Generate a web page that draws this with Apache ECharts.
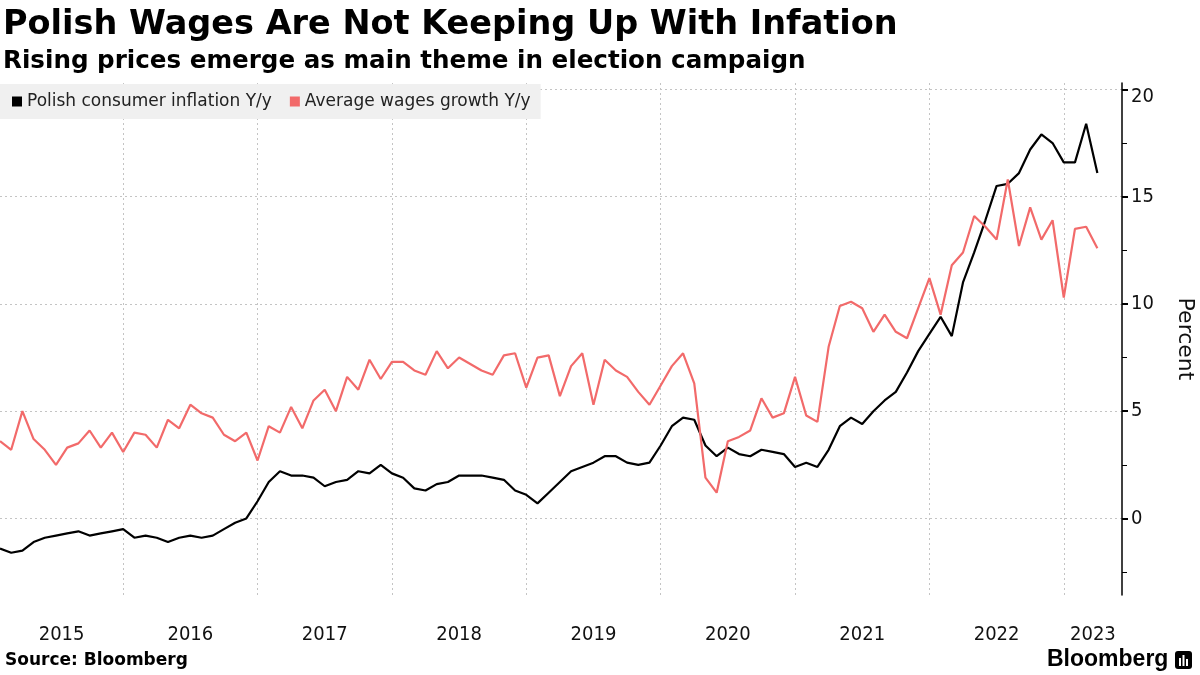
<!DOCTYPE html>
<html><head><meta charset="utf-8">
<script src="https://cdn.jsdelivr.net/npm/echarts@6/dist/echarts.min.js"></script>
<style>html,body{margin:0;padding:0;background:#fff}#c{width:1200px;height:675px}</style>
</head><body><div id="c"></div>
<script>
// Monthly data, first value = Jan 2015 (dated at month end), last = Mar 2023
const startYear = 2015;
const inflation = [
  -1.4,-1.6,-1.5,-1.1,-0.9,-0.8,-0.7,-0.6,-0.8,-0.7,-0.6,-0.5,
  -0.9,-0.8,-0.9,-1.1,-0.9,-0.8,-0.9,-0.8,-0.5,-0.2,0.0,0.8,
  1.7,2.2,2.0,2.0,1.9,1.5,1.7,1.8,2.2,2.1,2.5,2.1,
  1.9,1.4,1.3,1.6,1.7,2.0,2.0,2.0,1.9,1.8,1.3,1.1,
  0.7,1.2,1.7,2.2,2.4,2.6,2.9,2.9,2.6,2.5,2.6,3.4,
  4.3,4.7,4.6,3.4,2.9,3.3,3.0,2.9,3.2,3.1,3.0,2.4,
  2.6,2.4,3.2,4.3,4.7,4.4,5.0,5.5,5.9,6.8,7.8,8.6,
  9.4,8.5,11.0,12.4,13.9,15.5,15.6,16.1,17.2,17.9,17.5,16.6,
  16.6,18.4,16.1
];
const wages = [
  3.6,3.2,5.0,3.7,3.2,2.5,3.3,3.5,4.1,3.3,4.0,3.1,
  4.0,3.9,3.3,4.6,4.2,5.3,4.9,4.7,3.9,3.6,4.0,2.7,
  4.3,4.0,5.2,4.2,5.5,6.0,5.0,6.6,6.0,7.4,6.5,7.3,
  7.3,6.9,6.7,7.8,7.0,7.5,7.2,6.9,6.7,7.6,7.7,6.1,
  7.5,7.6,5.7,7.1,7.7,5.3,7.4,6.9,6.6,5.9,5.3,6.2,
  7.1,7.7,6.3,1.9,1.2,3.6,3.8,4.1,5.6,4.7,4.9,6.6,
  4.8,4.5,8.0,9.9,10.1,9.8,8.7,9.5,8.7,8.4,9.8,11.2,
  9.5,11.8,12.4,14.1,13.6,13.0,15.8,12.7,14.5,13.0,13.9,10.3,
  13.5,13.6,12.6
];
const seriesNames = ['Polish consumer inflation Y/y', 'Average wages growth Y/y'];
const yearLabels = ['2015','2016','2017','2018','2019','2020','2021','2022','2023'];
const yMajorTicks = [0, 5, 10, 15, 20];
const yMinorTicks = [-2.5, 2.5, 7.5, 12.5, 17.5];

const X_MIN = 0, X_MAX = 100.2;
const Y_MIN = -3.57, Y_MAX = 20.3;
const FONT_C = '"DejaVu Sans Condensed", "DejaVu Sans", sans-serif';
const FONT = '"DejaVu Sans", sans-serif';

const toPairs = arr => arr.map((v, i) => [i, v]);
const yearStart = y => 12 * (y - startYear) - 1;   // Jan 1 == end of previous Dec
const gridX = yearLabels.slice(1).map(y => yearStart(+y));
const labelX = yearLabels.map(y => {
  const a = Math.max(X_MIN, yearStart(+y));
  const b = Math.min(X_MAX, yearStart(+y) + 12);
  return (a + b) / 2;
});

const chart = echarts.init(document.getElementById('c'));
const dash = { color: '#c4c4c4', width: 1, type: [2, 3] };

chart.setOption({
  animation: false,
  backgroundColor: '#fff',
  textStyle: { fontFamily: FONT },
  title: [
    { text: 'Polish Wages Are Not Keeping Up With Infation', left: 3, top: 8, padding: 0,
      textStyle: { fontFamily: FONT, fontWeight: 'bold', fontSize: 33.5, color: '#000' } },
    { text: 'Rising prices emerge as main theme in election campaign', left: 3, top: 49, padding: 0,
      textStyle: { fontFamily: FONT, fontWeight: 'bold', fontSize: 24.6, color: '#000' } }
  ],
  legend: {
    data: seriesNames, left: 0, top: 84, icon: 'rect', itemWidth: 10, itemHeight: 10, itemGap: 18,
    backgroundColor: '#f0f0f0', padding: [9, 10, 9, 12],
    textStyle: { fontFamily: FONT, fontSize: 17, color: '#222' }
  },
  grid: { left: 0, right: 78, top: 83, bottom: 80, containLabel: false, outerBoundsMode: 'none' },
  xAxis: {
    type: 'value', min: X_MIN, max: X_MAX,
    axisLine: { show: false, onZero: false },
    axisTick: { show: false, customValues: gridX },
    splitLine: { show: true, lineStyle: dash },
    axisLabel: {
      customValues: labelX, margin: 30, fontSize: 20, color: '#111', fontFamily: FONT_C,
      formatter: v => { const k = labelX.findIndex(p => Math.abs(p - v) < 0.01); return k >= 0 ? yearLabels[k] : ''; }
    }
  },
  yAxis: [
    {
      type: 'value', position: 'right', min: Y_MIN, max: Y_MAX,
      axisLine: { show: true, onZero: false, lineStyle: { color: '#000', width: 1.5 } },
      axisTick: { show: true, customValues: yMajorTicks, length: 6, lineStyle: { color: '#000', width: 2 } },
      axisLabel: {
        customValues: yMajorTicks, fontSize: 20, color: '#111', margin: 9, fontFamily: FONT_C,
        formatter: v => v === 20 ? '{t|' + v + '}' : String(v),
        rich: { t: { fontSize: 20, fontFamily: FONT_C, color: '#111', padding: [14, 0, 0, 0] } }
      },
      splitLine: { show: true, lineStyle: dash },
      name: 'Percent', nameLocation: 'middle', nameRotate: -90, nameGap: 52,
      nameTextStyle: { fontSize: 22, color: '#111', fontFamily: FONT }
    },
    {
      type: 'value', position: 'right', min: Y_MIN, max: Y_MAX,
      axisLine: { show: false, onZero: false },
      axisTick: { show: true, customValues: yMinorTicks, length: 5, lineStyle: { color: '#000', width: 1 } },
      axisLabel: { show: false },
      splitLine: { show: false }
    }
  ],
  series: [
    { name: seriesNames[0], type: 'line', data: toPairs(inflation), showSymbol: false, symbol: 'none',
      itemStyle: { color: '#000' }, lineStyle: { color: '#000', width: 2.2 }, z: 3 },
    { name: seriesNames[1], type: 'line', data: toPairs(wages), showSymbol: false, symbol: 'none',
      itemStyle: { color: '#f26a6a' }, lineStyle: { color: '#f26a6a', width: 2.2 }, z: 4 }
  ],
  graphic: [
    { type: 'text', left: 5, top: 652, style: { text: 'Source: Bloomberg', fontFamily: FONT, fontWeight: 'bold', fontSize: 17, fill: '#000' } },
    { type: 'text', left: 1047, top: 648, style: { text: 'Bloomberg', fontFamily: '"Liberation Sans", Arial, sans-serif', fontWeight: 'bold', fontSize: 23, fill: '#000' } },
    { type: 'group', left: 1175, top: 651, children: [
      { type: 'rect', shape: { x: 0, y: 0, width: 17, height: 18, r: 3 }, style: { fill: '#000' } },
      { type: 'rect', shape: { x: 4, y: 7, width: 2, height: 8 }, style: { fill: '#fff' } },
      { type: 'rect', shape: { x: 7.5, y: 4, width: 2, height: 11 }, style: { fill: '#fff' } },
      { type: 'rect', shape: { x: 11, y: 8, width: 2, height: 7 }, style: { fill: '#fff' } }
    ] }
  ]
});
</script></body></html>
